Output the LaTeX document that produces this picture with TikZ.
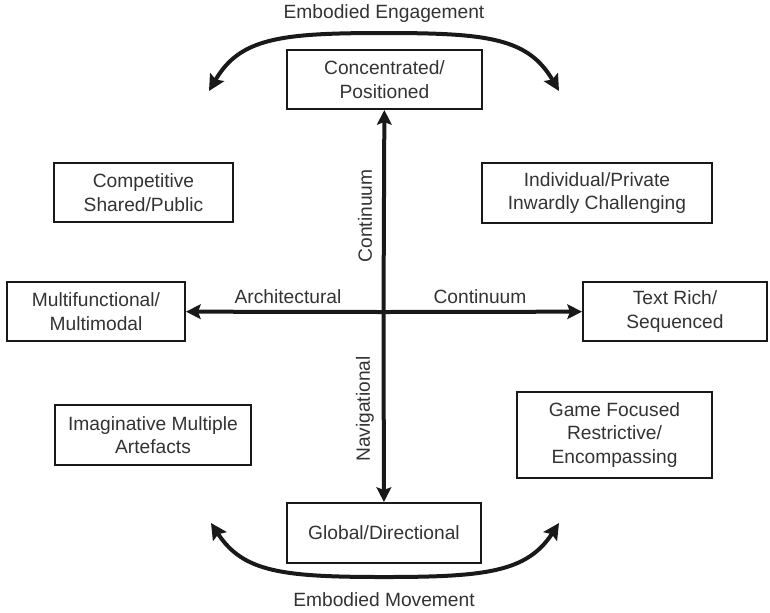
\documentclass[tikz,border=0pt]{standalone}
\usepackage{fontspec}
\setmainfont{Liberation Sans}
\usetikzlibrary{arrows.meta}

\tikzset{every picture/.style={line width=0.75pt}}
\tikzset{
	box/.style={draw=black!90, line width=1.5pt, align=center, inner sep=0pt, text=black!80, font=\fontsize{14.4}{17.6}\selectfont},
	lbl/.style={text=black!80, font=\fontsize{14.4}{17.6}\selectfont},
	axis/.style={draw=black!90, line width=3pt, -{Stealth[length=11pt,width=11pt,inset=2pt]}},
	loop/.style={draw=black!90, line width=3pt, {Stealth[length=12pt,width=12pt,inset=2pt]}-{Stealth[length=12pt,width=12pt,inset=2pt]}}
}

\begin{document}
\begin{tikzpicture}[x=0.75pt,y=0.75pt,yscale=-1,xscale=1]
	\useasboundingbox (0,0) rectangle (770,612);

	% Boxes
	\node[box, minimum width=146.25pt, minimum height=44.25pt] (conc) at (384.5,79.5) {Concentrated/\\Positioned};
	\node[box, minimum width=145.5pt, minimum height=45pt] (glob) at (384,533) {Global/Directional};
	\node[box, minimum width=133.5pt, minimum height=44.25pt] (multi) at (96,311.5) {Multifunctional/\\Multimodal};
	\node[box, minimum width=138pt, minimum height=44.25pt] (text) at (675,311.5) {Text Rich/\\Sequenced};
	\node[box, minimum width=134.25pt, minimum height=44.25pt] (comp) at (143.5,192.5) {Competitive\\Shared/Public};
	\node[box, minimum width=172.5pt, minimum height=45pt] (indiv) at (597,193) {Individual/Private\\Inwardly Challenging};
	\node[box, minimum width=147pt, minimum height=45pt] (imag) at (153,435) {Imaginative Multiple\\Artefacts};
	\node[box, minimum width=146.25pt, minimum height=64.5pt] (game) at (614.5,435) {Game Focused\\Restrictive/\\Encompassing};

	% Axes
	\coordinate (mid) at (383.5,312);
	\draw[axis] (mid) -- (conc);
	\draw[axis] (mid) -- (glob);
	\draw[axis] (mid) -- (multi);
	\draw[axis] (mid) -- (text);

	% Axis labels
	\node[lbl, rotate=90] (contV) at (365,216) {Continuum};
	\node[lbl, rotate=90] (nav) at (365,409) {Navigational};
	\node[lbl] (arch) at (288,297) {Architectural};
	\node[lbl] (contH) at (480,297) {Continuum};

	% Engagement loop
	\coordinate (engL) at (209,91);
	\coordinate (engTop) at (384,33);
	\coordinate (engR) at (559,91);
	\draw[loop] (engL) .. controls (240,38) and (280,33) .. (engTop) .. controls (488,33) and (528,38) .. (engR);
	\node[lbl] (eng) at (384,14) {Embodied Engagement};

	% Movement loop
	\coordinate (movL) at (211,523);
	\coordinate (movBot) at (384,577);
	\coordinate (movR) at (559,523);
	\draw[loop] (movL) .. controls (243,572) and (282,577) .. (movBot) .. controls (486,577) and (527,572) .. (movR);
	\node[lbl] (mov) at (384,600) {Embodied Movement};

\end{tikzpicture}
\end{document}
